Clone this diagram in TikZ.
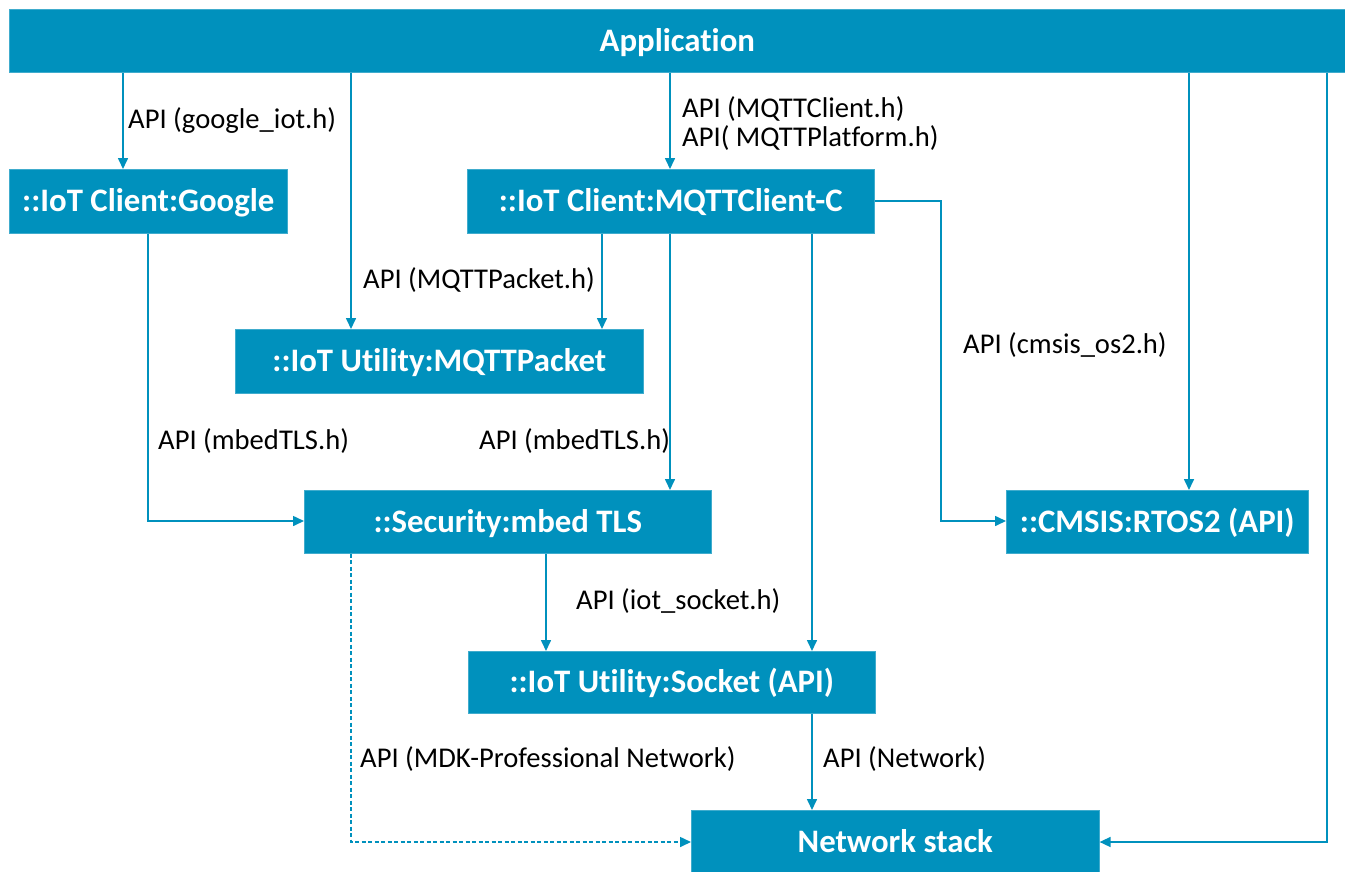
\documentclass[tikz,border=0pt]{standalone}
\usepackage{fontspec}
\setmainfont{Carlito}[Ligatures={NoCommon}]
\usetikzlibrary{arrows.meta}
\definecolor{armblue}{RGB}{0,145,189}
\begin{document}
\begin{tikzpicture}[x=1pt,y=-1pt,
 box/.style={fill=armblue, draw=armblue!75!white, line width=0.6pt, text=white,
   font=\fontsize{32.8}{38}\selectfont\bfseries, inner sep=0pt, anchor=north west,
   text height=20.6pt, text depth=0pt},
 lbl/.style={font=\fontsize{28.6}{30}\selectfont, anchor=base west, inner sep=0pt, text=black},
 conn/.style={draw=armblue, line width=1.6pt, -{Triangle[length=11pt,width=10pt]}},
 dconn/.style={conn, dash pattern=on 4pt off 2.5pt},
]
\useasboundingbox (0,0) rectangle (1345,871);

% boxes
\node[box, minimum width=1336pt, minimum height=63pt] (app) at (9,9) {Application};
\node[box, minimum width=278pt, minimum height=64pt] (google) at (9,169) {::IoT Client:Google};
\node[box, minimum width=407pt, minimum height=64pt] (mqttc) at (467,169) {::IoT Client:MQTTClient-C};
\node[box, minimum width=408pt, minimum height=64pt] (packet) at (235,329) {::IoT Utility:MQTTPacket};
\node[box, minimum width=407pt, minimum height=63pt] (mbed) at (304,490) {::Security:mbed TLS};
\node[box, minimum width=302pt, minimum height=63pt] (cmsis) at (1006,490) {::CMSIS:RTOS2 (API)};
\node[box, minimum width=407pt, minimum height=62pt] (socket) at (468,651) {::IoT Utility:Socket (API)};
\node[box, minimum width=408pt, minimum height=63pt] (net) at (691,810) {Network stack};

% helper coordinates
\coordinate (xa) at (123,0);
\coordinate (xb) at (148,0);
\coordinate (xc) at (351,0);
\coordinate (xd) at (602,0);
\coordinate (xe) at (670,0);
\coordinate (xf) at (812,0);
\coordinate (xg) at (941,0);
\coordinate (xh) at (1189,0);
\coordinate (xi) at (1327,0);
\coordinate (xk) at (546,0);
\coordinate (ya) at (0,201);
\coordinate (yb) at (0,521);
\coordinate (yc) at (0,842);

% connectors
\draw[conn] (app.south -| xa) -- (google.north -| xa);
\draw[conn] (app.south -| xc) -- (packet.north -| xc);
\draw[conn] (app.south -| xe) -- (mqttc.north -| xe);
\draw[conn] (app.south -| xh) -- (cmsis.north -| xh);
\draw[conn] (app.south -| xi) |- (net.east |- yc);
\draw[conn] (mqttc.south -| xd) -- (packet.north -| xd);
\draw[conn] (mqttc.south -| xe) -- (mbed.north -| xe);
\draw[conn] (mqttc.south -| xf) -- (socket.north -| xf);
\draw[conn] (mqttc.east |- ya) -| (xg |- yb) -- (cmsis.west |- yb);
\draw[conn] (google.south -| xb) |- (mbed.west |- yb);
\draw[conn] (mbed.south -| xk) -- (socket.north -| xk);
\draw[dconn] (mbed.south -| xc) |- (net.west |- yc);
\draw[conn] (socket.south -| xf) -- (net.north -| xf);

% labels
\node[lbl] (l1) at (128,128) {API (google\_iot.h)};
\node[lbl] (l2) at (682,117) {API (MQTTClient.h)};
\node[lbl] (l3) at (682,146) {API( MQTTPlatform.h)};
\node[lbl] (l4) at (363,288) {API (MQTTPacket.h)};
\node[lbl] (l5) at (963,353) {API (cmsis\_os2.h)};
\node[lbl] (l6) at (158,449) {API (mbedTLS.h)};
\node[lbl] (l7) at (479,449) {API (mbedTLS.h)};
\node[lbl] (l8) at (576,609) {API (iot\_socket.h)};
\node[lbl] (l9) at (360,767) {API (MDK-Professional Network)};
\node[lbl] (l10) at (823,767) {API (Network)};
\end{tikzpicture}
\end{document}
